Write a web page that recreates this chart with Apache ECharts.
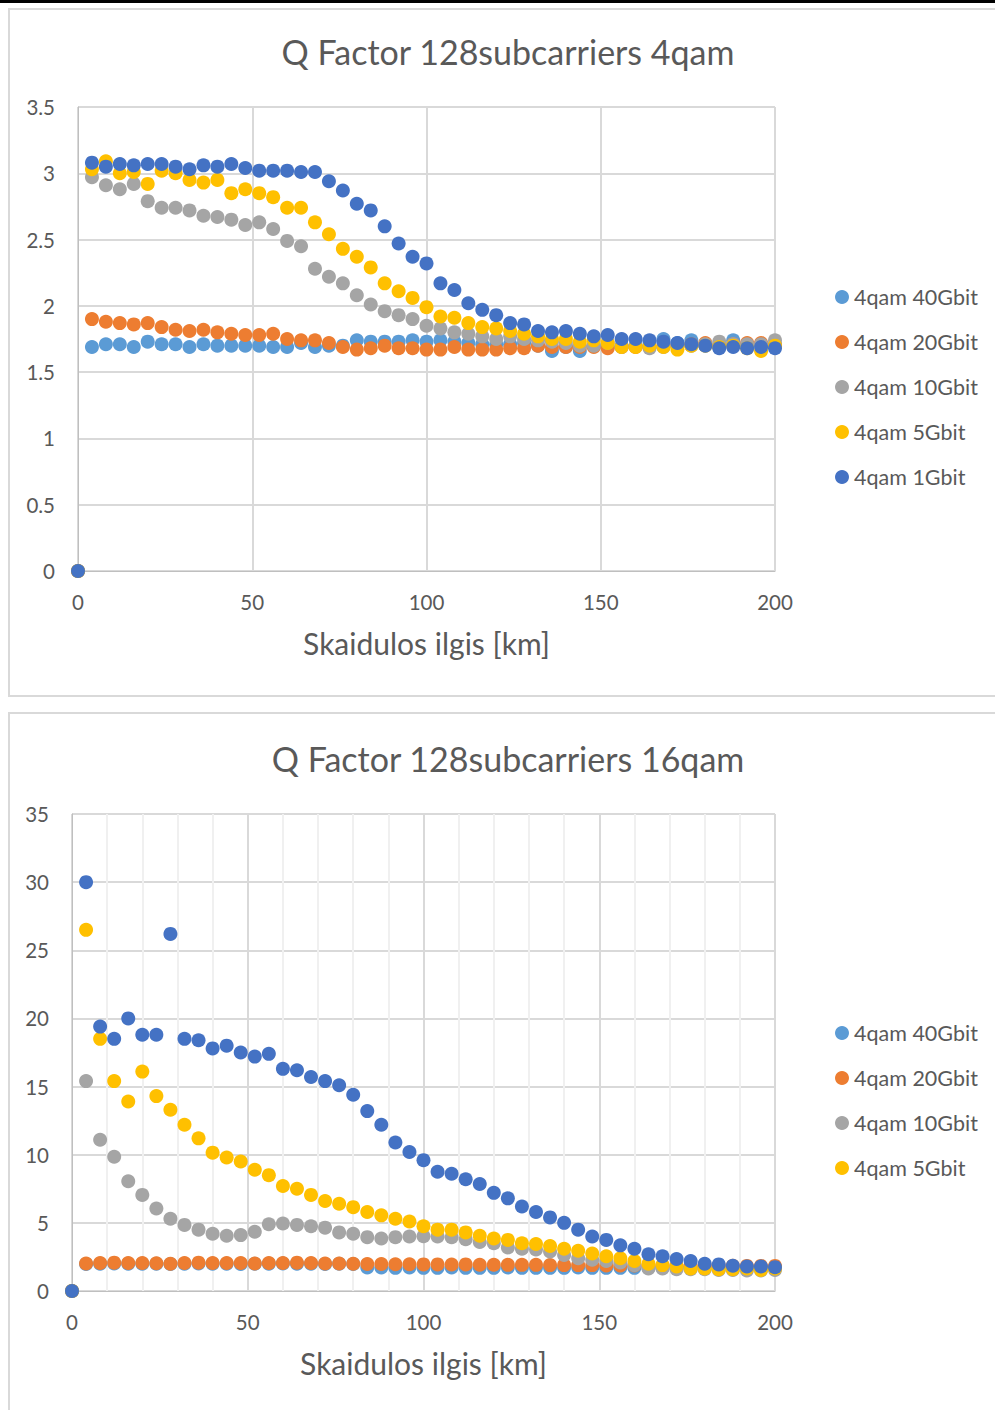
<!DOCTYPE html>
<html>
<head>
<meta charset="utf-8">
<script src="https://cdn.jsdelivr.net/npm/echarts@6/dist/echarts.min.js"></script>
<style>
    body { margin: 0; background: #fff; overflow: hidden; }
    .topbar { position: absolute; left: 0; top: 0; width: 995px; height: 3px; background: #000; }
    .frame { position: absolute; border: 2px solid #d9d9d9; background: #fff; }
    #chart { position: absolute; left: 0; top: 0; width: 995px; height: 1410px; }
</style>
</head>
<body>
<div class="topbar"></div>
<div class="frame" style="left:8px;top:8px;width:1000px;height:685px;"></div>
<div class="frame" style="left:8px;top:712px;width:1000px;height:720px;"></div>
<div id="chart"></div>
<script>
    // fibre length (km)
    var km = [0, 4, 8, 12, 16, 20, 24, 28, 32, 36, 40, 44, 48, 52, 56, 60, 64, 68, 72, 76, 80,
        84, 88, 92, 96, 100, 104, 108, 112, 116, 120, 124, 128, 132, 136, 140, 144, 148, 152, 156, 160,
        164, 168, 172, 176, 180, 184, 188, 192, 196, 200];

    var names = ['4qam 40Gbit', '4qam 20Gbit', '4qam 10Gbit', '4qam 5Gbit', '4qam 1Gbit'];
    var colors = ['#5B9BD5', '#ED7D31', '#A5A5A5', '#FFC000', '#4472C4'];

    // Q factor, 4qam
    var q4_40 = [0, 1.69, 1.71, 1.71, 1.69, 1.73, 1.71, 1.71, 1.69, 1.71, 1.70, 1.70, 1.70, 1.70, 1.69, 1.69, 1.72, 1.69, 1.70, 1.70, 1.74,
        1.73, 1.73, 1.73, 1.74, 1.73, 1.74, 1.73, 1.72, 1.71, 1.71, 1.71, 1.72, 1.70, 1.66, 1.69, 1.66, 1.70, 1.69, 1.70, 1.70,
        1.73, 1.75, 1.72, 1.74, 1.71, 1.70, 1.74, 1.71, 1.71, 1.71];
    var q4_20 = [0, 1.90, 1.88, 1.87, 1.86, 1.87, 1.84, 1.82, 1.81, 1.82, 1.80, 1.79, 1.78, 1.78, 1.79, 1.75, 1.74, 1.74, 1.72, 1.69, 1.67,
        1.68, 1.70, 1.68, 1.68, 1.67, 1.67, 1.69, 1.67, 1.67, 1.67, 1.68, 1.68, 1.70, 1.69, 1.69, 1.69, 1.69, 1.68, 1.69, 1.69,
        1.69, 1.70, 1.70, 1.71, 1.72, 1.70, 1.71, 1.72, 1.72, 1.70];
    var q4_10 = [0, 2.97, 2.91, 2.88, 2.92, 2.79, 2.74, 2.74, 2.72, 2.68, 2.67, 2.65, 2.61, 2.63, 2.58, 2.49, 2.45, 2.28, 2.22, 2.17, 2.08,
        2.01, 1.96, 1.93, 1.90, 1.85, 1.83, 1.80, 1.79, 1.77, 1.75, 1.77, 1.75, 1.74, 1.73, 1.72, 1.70, 1.70, 1.72, 1.69, 1.70,
        1.68, 1.69, 1.70, 1.70, 1.71, 1.73, 1.71, 1.71, 1.71, 1.74];
    var q4_5 = [0, 3.03, 3.09, 3.00, 3.01, 2.92, 3.02, 3.00, 2.95, 2.93, 2.95, 2.85, 2.88, 2.85, 2.82, 2.74, 2.74, 2.63, 2.54, 2.43, 2.37,
        2.29, 2.17, 2.11, 2.06, 1.99, 1.92, 1.91, 1.87, 1.84, 1.83, 1.81, 1.79, 1.77, 1.75, 1.75, 1.73, 1.74, 1.72, 1.69, 1.69,
        1.70, 1.69, 1.67, 1.70, 1.70, 1.69, 1.70, 1.68, 1.66, 1.70];
    var q4_1 = [0, 3.08, 3.05, 3.07, 3.06, 3.07, 3.07, 3.05, 3.03, 3.06, 3.05, 3.07, 3.04, 3.02, 3.02, 3.02, 3.01, 3.01, 2.94, 2.87, 2.77,
        2.72, 2.60, 2.47, 2.37, 2.32, 2.17, 2.12, 2.02, 1.97, 1.93, 1.87, 1.86, 1.81, 1.80, 1.81, 1.79, 1.77, 1.78, 1.75, 1.75,
        1.74, 1.73, 1.72, 1.71, 1.70, 1.68, 1.69, 1.68, 1.69, 1.68];

    // Q factor, 16qam
    var q16_40 = [0, 1.98, 2.0, 2.02, 2.0, 2.0, 2.0, 1.98, 2.0, 2.02, 2.0, 2.0, 1.98, 2.0, 2.0, 2.02, 2.0, 2.0, 1.98, 2.0, 1.98,
        1.72, 1.72, 1.70, 1.72, 1.70, 1.70, 1.72, 1.70, 1.70, 1.70, 1.72, 1.70, 1.70, 1.70, 1.70, 1.72, 1.70, 1.70, 1.70, 1.70,
        1.70, 1.70, 1.70, 1.70, 1.70, 1.70, 1.70, 1.70, 1.70, 1.70];
    var q16_20 = [0, 2.02, 2.05, 2.08, 2.05, 2.05, 2.04, 2.0, 2.05, 2.08, 2.05, 2.05, 2.05, 2.02, 2.05, 2.05, 2.08, 2.05, 2.02, 2.02, 2.0,
        1.98, 1.98, 1.96, 1.96, 1.95, 1.95, 1.94, 1.95, 1.93, 1.93, 1.92, 1.92, 1.92, 1.9, 1.9, 1.9, 1.9, 1.88, 1.88, 1.88,
        1.87, 1.87, 1.86, 1.86, 1.85, 1.85, 1.85, 1.84, 1.84, 1.84];
    var q16_10 = [0, 15.4, 11.1, 9.85, 8.05, 7.05, 6.05, 5.3, 4.85, 4.5, 4.2, 4.05, 4.1, 4.35, 4.9, 4.95, 4.85, 4.75, 4.65, 4.3, 4.2,
        3.95, 3.85, 3.95, 4.0, 4.02, 4.0, 3.95, 3.8, 3.6, 3.5, 3.2, 3.1, 3.05, 2.9, 2.65, 2.4, 2.3, 2.2, 2.1, 1.9,
        1.65, 1.65, 1.6, 1.6, 1.6, 1.55, 1.55, 1.5, 1.5, 1.55];
    var q16_5 = [0, 26.5, 18.5, 15.4, 13.9, 16.1, 14.3, 13.3, 12.2, 11.2, 10.15, 9.8, 9.5, 8.9, 8.5, 7.7, 7.5, 7.05, 6.6, 6.4, 6.15,
        5.8, 5.55, 5.3, 5.1, 4.75, 4.5, 4.5, 4.3, 4.05, 3.85, 3.75, 3.5, 3.45, 3.3, 3.1, 2.95, 2.75, 2.55, 2.4, 2.2,
        2.0, 1.9, 1.8, 1.65, 1.65, 1.6, 1.6, 1.65, 1.55, 1.65];
    var q16_1 = [0, 30.0, 19.4, 18.5, 20.0, 18.8, 18.8, 26.2, 18.5, 18.4, 17.8, 18.0, 17.5, 17.2, 17.4, 16.3, 16.2, 15.7, 15.4, 15.1, 14.4,
        13.2, 12.2, 10.9, 10.2, 9.6, 8.75, 8.6, 8.2, 7.85, 7.2, 6.8, 6.2, 5.8, 5.4, 5.0, 4.5, 4.0, 3.75, 3.35, 3.1,
        2.7, 2.55, 2.35, 2.2, 2.0, 1.95, 1.85, 1.8, 1.8, 1.75];

    var xTicks = [0, 50, 100, 150, 200];
    var yTicksTop = [0, 0.5, 1, 1.5, 2, 2.5, 3, 3.5];
    var yTicksBottom = [0, 5, 10, 15, 20, 25, 30, 35];

    var font = 'Lato, "Open Sans", sans-serif';
    var textColor = '#595959';

    function pairs(arr) {
        var out = [];
        for (var i = 0; i < km.length; i++) {
            out.push([km[i], arr[i]]);
        }
        return out;
    }

    function xAxis(idx, minor) {
        return {
            type: 'value', gridIndex: idx,
            min: xTicks[0], max: xTicks[xTicks.length - 1], interval: xTicks[1] - xTicks[0],
            name: 'Skaidulos ilgis [km]', nameLocation: 'middle', nameGap: 57,
            nameTextStyle: {color: textColor, fontSize: 30, fontFamily: font},
            axisLine: {show: true, lineStyle: {color: '#bfbfbf', width: 1}},
            axisTick: {show: false},
            axisLabel: {color: textColor, fontSize: 20.5, fontFamily: font, margin: 20},
            splitLine: {show: true, lineStyle: {color: '#d9d9d9', width: 2}},
            minorTick: {show: minor, splitNumber: 5, length: 0},
            minorSplitLine: {show: minor, lineStyle: {color: '#f0f0f0', width: 2}}
        };
    }

    function yAxis(idx, ticks) {
        return {
            type: 'value', gridIndex: idx,
            min: ticks[0], max: ticks[ticks.length - 1], interval: ticks[1] - ticks[0],
            axisLine: {show: true, lineStyle: {color: '#bfbfbf', width: 1}},
            axisTick: {show: false},
            axisLabel: {color: textColor, fontSize: 20.5, fontFamily: font, margin: 23},
            splitLine: {show: true, lineStyle: {color: '#d9d9d9', width: 2}}
        };
    }

    var topData = [q4_40, q4_20, q4_10, q4_5, q4_1];
    var bottomData = [q16_40, q16_20, q16_10, q16_5, q16_1];
    var series = [];
    for (var s = 0; s < names.length; s++) {
        series.push({
            name: names[s], type: 'scatter', xAxisIndex: 0, yAxisIndex: 0,
            symbolSize: 14, itemStyle: {color: colors[s], opacity: 1},
            data: pairs(topData[s]), z: 2 + s
        });
    }
    for (var s = 0; s < names.length; s++) {
        series.push({
            name: names[s], type: 'scatter', xAxisIndex: 1, yAxisIndex: 1,
            symbolSize: 14, itemStyle: {color: colors[s], opacity: 1},
            data: pairs(bottomData[s]), z: 2 + s
        });
    }

    var legendBase = {
        orient: 'vertical', left: 830, icon: 'circle',
        itemWidth: 14, itemHeight: 14, itemGap: 23,
        selectedMode: false,
        textStyle: {color: textColor, fontSize: 21.5, fontFamily: font, padding: [0, 0, 0, 0]}
    };

    var chart = echarts.init(document.getElementById('chart'), null, {renderer: 'svg'});
    chart.setOption({
        animation: false,
        backgroundColor: 'transparent',
        title: [
            {text: 'Q Factor 128subcarriers 4qam', left: 503, top: 29, textAlign: 'center',
                textStyle: {color: textColor, fontSize: 34, fontWeight: 'normal', fontFamily: font}},
            {text: 'Q Factor 128subcarriers 16qam', left: 503, top: 736, textAlign: 'center',
                textStyle: {color: textColor, fontSize: 34, fontWeight: 'normal', fontFamily: font}}
        ],
        legend: [
            Object.assign({}, legendBase, {top: 281, data: names}),
            Object.assign({}, legendBase, {top: 1017, data: names.slice(0, 4)})
        ],
        grid: [
            {left: 78, top: 107, width: 697, height: 464},
            {left: 72, top: 814, width: 703, height: 477}
        ],
        xAxis: [xAxis(0, false), xAxis(1, true)],
        yAxis: [yAxis(0, yTicksTop), yAxis(1, yTicksBottom)],
        series: series
    });
</script>
</body>
</html>
